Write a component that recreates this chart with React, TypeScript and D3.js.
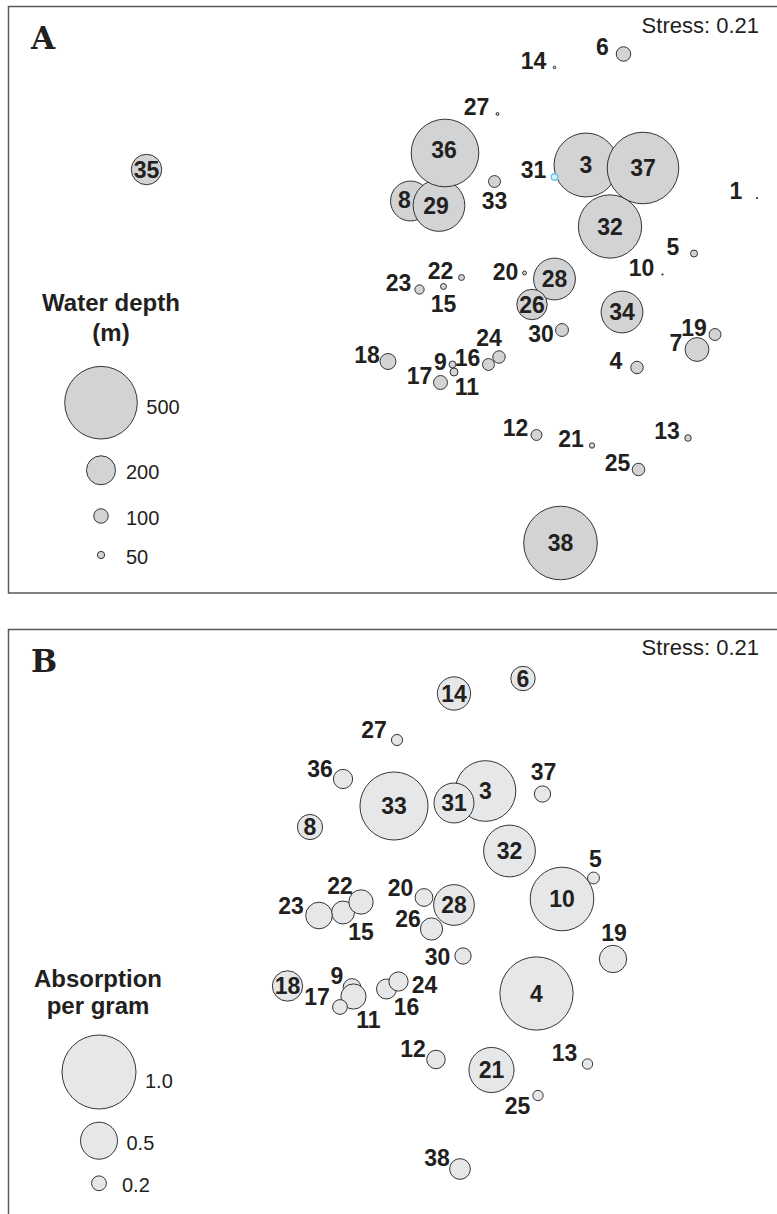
import React from 'react'
import * as d3 from 'd3'

// Panel A: NMDS site scores, bubble = water depth (m)
const sitesA = [1, 3, 4, 5, 6, 7, 8, 9, 10, 11, 12, 13, 14, 15, 16, 17, 18, 19, 20, 21, 22, 23, 24, 25, 27, 28, 26, 29, 30, 31, 32, 33, 34, 35, 36, 37, 38]
const nmds1A = [1.98, 0.84, 1.18, 1.56, 1.09, 1.58, -0.33, -0.05, 1.35, -0.04, 0.51, 1.52, 0.63, -0.11, 0.19, -0.13, -0.48, 1.70, 0.43, 0.88, 0.01, -0.27, 0.26, 1.19, 0.25, 0.63, 0.48, -0.14, 0.68, 0.63, 1.00, 0.23, 1.08, -2.09, -0.10, 1.22, 0.67]
const nmds2A = [0.68, 0.90, -0.45, 0.31, 1.64, -0.33, 0.66, -0.43, 0.17, -0.48, -0.90, -0.92, 1.55, 0.09, -0.43, -0.55, -0.41, -0.23, 0.18, -0.97, 0.15, 0.07, -0.38, -1.13, 1.24, 0.14, -0.03, 0.63, -0.20, 0.82, 0.49, 0.79, -0.08, 0.87, 0.98, 0.88, -1.62]
const waterDepth = [5, 440, 86, 48, 100, 164, 275, 48, 10, 55, 75, 45, 18, 41, 82, 96, 110, 82, 27, 37, 41, 64, 86, 86, 20, 288, 210, 356, 89, 45, 436, 82, 288, 210, 466, 493, 507]
const depthLegend = [500, 200, 100, 50]

// Panel B: NMDS site scores, bubble = absorption per gram
const sitesB = [3, 4, 6, 8, 9, 10, 5, 11, 12, 13, 14, 15, 16, 17, 18, 19, 20, 21, 22, 23, 24, 25, 26, 27, 28, 30, 31, 32, 33, 36, 37, 38]
const nmds1B = [0.17, 0.51, 0.42, -1.00, -0.72, 0.68, 0.89, -0.71, -0.16, 0.85, -0.04, -0.78, -0.49, -0.80, -1.15, 1.02, -0.24, 0.21, -0.66, -0.94, -0.41, 0.52, -0.19, -0.42, -0.04, 0.02, -0.04, 0.33, -0.44, -0.78, 0.55, 0.00]
const nmds2B = [0.88, -0.47, 1.63, 0.64, -0.43, 0.16, 0.30, -0.49, -0.91, -0.94, 1.53, 0.07, -0.44, -0.56, -0.42, -0.24, 0.17, -0.98, 0.14, 0.05, -0.39, -1.15, -0.04, 1.22, 0.12, -0.22, 0.80, 0.48, 0.78, 0.96, 0.86, -1.64]
const absorption = [0.82, 0.99, 0.33, 0.34, 0.24, 0.86, 0.16, 0.34, 0.25, 0.14, 0.45, 0.31, 0.27, 0.20, 0.41, 0.37, 0.24, 0.61, 0.33, 0.36, 0.26, 0.14, 0.30, 0.15, 0.55, 0.22, 0.54, 0.70, 0.92, 0.26, 0.22, 0.28]
const absorptionLegend = ['1.0', '0.5', '0.2']

const stress = '0.21'

// label placement (px offsets of label centre from bubble centre)
const labelOffA: Record<number, [number, number]> = {
  8: [-6, -1], 29: [-3, 0], 36: [-1, -3], 33: [0, 19], 15: [0, 17], 24: [-10, -19],
  9: [-12, -3], 11: [13, 14.5], 20: [-19, -1], 30: [-21, 4]
}
const labelOffB: Record<number, [number, number]> = {
  5: [2, -19], 9: [-15, -12], 11: [15, 23], 12: [-23, -11], 13: [-23, -11], 15: [18, 19],
  16: [20, 18], 17: [-23, -10], 19: [1, -26], 20: [-23.5, -10], 22: [-21, -16], 23: [-28, -10],
  24: [26, 3], 25: [-20.5, 10], 26: [-23.5, -10.5], 27: [-23, -10], 30: [-25.5, 0.5],
  36: [-23, -10], 37: [1, -22], 38: [-23, -11]
}

const INK = '#231f20'
const SANS = '"Liberation Sans", Arial, sans-serif'

export default function App() {
  const W = 777, H = 1214
  const x = d3.scaleLinear().domain([-1, 1]).range([310, 610])
  const yA = d3.scaleLinear().domain([-1, 1]).range([450, 150])
  const yB = d3.scaleLinear().domain([-1, 1]).range([1073, 773])
  const rA = d3.scaleLinear().domain([0, 500]).range([0, 36.3])
  const rB = d3.scaleLinear().domain([0, 1]).range([0, 37])

  const legA = [402.7, 470.3, 516, 555]
  const legB = [1072, 1140.7, 1183.3]

  const label = (id: number, cx: number, cy: number, off: [number, number]) => (
    <text key={'t' + id} x={cx + off[0]} y={cy + off[1]} dy="0.36em" textAnchor="middle"
      fontFamily={SANS} fontWeight="bold" fontSize={23} fill={INK}>{id}</text>
  )

  return (
    <svg width={W} height={H} style={{ position: 'absolute', left: 0, top: 0, background: '#fff' }}>
      {/* Panel A */}
      <path d={`M${W + 2},6.5H8.5V593H${W + 2}`} fill="none" stroke="#58595b" strokeWidth={1.5} />
      <text x={31} y={49} fontFamily='"DejaVu Serif", serif' fontWeight="bold" fontSize={31} fill={INK}>A</text>
      <text x={759} y={32.5} textAnchor="end" fontFamily={SANS} fontSize={22} fill={INK}>Stress: {stress}</text>
      {sitesA.map((id, i) => (
        <circle key={id} cx={x(nmds1A[i])} cy={yA(nmds2A[i])} r={Math.max(rA(waterDepth[i]), 0.7)}
          fill={id === 31 ? '#d9eef8' : '#d1d3d4'} stroke={id === 31 ? '#6cc4ea' : INK} strokeWidth={id === 31 ? 1.3 : 0.9} />
      ))}
      {sitesA.map((id, i) => {
        const off = labelOffA[id] ?? (waterDepth[i] >= 200 ? [0, 0] : [-21, -7])
        return label(id, x(nmds1A[i]), yA(nmds2A[i]), off as [number, number])
      })}
      <text x={111} y={310.7} textAnchor="middle" fontFamily={SANS} fontWeight="bold" fontSize={24} fill={INK}>Water depth</text>
      <text x={111} y={341} textAnchor="middle" fontFamily={SANS} fontWeight="bold" fontSize={24} fill={INK}>(m)</text>
      {depthLegend.map((d, i) => (
        <g key={d}>
          <circle cx={101} cy={legA[i]} r={rA(d)} fill="#d1d3d4" stroke={INK} strokeWidth={0.9} />
          <text x={Math.max(101 + rA(d) + 9, 126)} y={legA[i]} dy={i === 0 ? '0.55em' : '0.45em'}
            fontFamily={SANS} fontSize={20} fill={INK}>{d}</text>
        </g>
      ))}

      {/* Panel B */}
      <path d={`M${W + 2},629.5H8.5V${H + 2}`} fill="none" stroke="#58595b" strokeWidth={1.5} />
      <text x={31} y={672} fontFamily='"DejaVu Serif", serif' fontWeight="bold" fontSize={31} fill={INK}>B</text>
      <text x={759} y={655.3} textAnchor="end" fontFamily={SANS} fontSize={22} fill={INK}>Stress: {stress}</text>
      {sitesB.map((id, i) => (
        <circle key={id} cx={x(nmds1B[i])} cy={yB(nmds2B[i])} r={rB(absorption[i])}
          fill="#e6e7e8" stroke={INK} strokeWidth={0.9} />
      ))}
      {sitesB.map((id, i) => label(id, x(nmds1B[i]), yB(nmds2B[i]), labelOffB[id] ?? [0, 0]))}
      <text x={98} y={987.3} textAnchor="middle" fontFamily={SANS} fontWeight="bold" fontSize={24} fill={INK}>Absorption</text>
      <text x={98} y={1014} textAnchor="middle" fontFamily={SANS} fontWeight="bold" fontSize={24} fill={INK}>per gram</text>
      {absorptionLegend.map((v, i) => (
        <g key={v}>
          <circle cx={99} cy={legB[i]} r={rB(+v)} fill="#e6e7e8" stroke={INK} strokeWidth={0.9} />
          <text x={Math.max(99 + rB(+v) + 9, 122)} y={legB[i]} dy={i === 0 ? '0.8em' : '0.45em'}
            fontFamily={SANS} fontSize={20} fill={INK}>{v}</text>
        </g>
      ))}
    </svg>
  )
}
